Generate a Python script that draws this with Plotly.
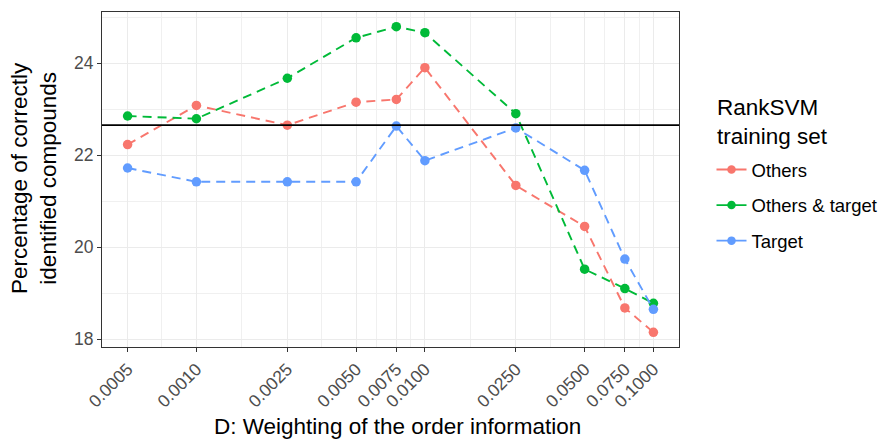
import plotly.graph_objects as go
import numpy as np

d_values = [0.0005, 0.001, 0.0025, 0.005, 0.0075, 0.01, 0.025, 0.05, 0.075, 0.1]
tick_labels = ["0.0005", "0.0010", "0.0025", "0.0050", "0.0075", "0.0100",
               "0.0250", "0.0500", "0.0750", "0.1000"]
others = [22.23, 23.08, 22.65, 23.15, 23.21, 23.90, 21.34, 20.45, 18.68, 18.15]
others_target = [22.85, 22.79, 23.67, 24.55, 24.79, 24.66, 22.90, 19.52, 19.10, 18.78]
target = [21.72, 21.42, 21.42, 21.42, 22.63, 21.88, 22.59, 21.67, 19.74, 18.65]
baseline = 22.65
y_ticks = [18, 20, 22, 24]
y_minor = [19, 21, 23, 25]

series = [("Others", others, "#F8766D"),
          ("Others & target", others_target, "#00BA38"),
          ("Target", target, "#619CFF")]

FONT = "Liberation Sans, Arial"
TITLE_SIZE = 22.5

# plot area in page pixels (for placing text relative to the panel)
PX0, PX1, PY0, PY1 = 102, 679, 12, 347
def px(x):
    return (x - PX0) / (PX1 - PX0)
def py(y):
    return (PY1 - y) / (PY1 - PY0)

fig = go.Figure()
for name, vals, col in series:
    fig.add_trace(go.Scatter(
        x=d_values, y=vals, mode="lines+markers", name=name,
        line=dict(color=col, width=1.9, dash="9px,6px"),
        marker=dict(color=col, size=9.5),
        showlegend=False, hoverinfo="x+y+name"))
for name, vals, col in series:
    fig.add_trace(go.Scatter(
        x=[None], y=[None], mode="lines+markers", name=name,
        line=dict(color=col, width=1.9),
        marker=dict(color=col, size=8.5),
        legendgroup=name, showlegend=True))

fig.add_hline(y=baseline, line=dict(color="black", width=1.8))

lx = np.log10(d_values)
minor_x = [10 ** ((a + b) / 2) for a, b in zip(lx[:-1], lx[1:])]

axis_common = dict(
    showline=True, linecolor="#333333", linewidth=1.2, mirror=True,
    ticks="outside", ticklen=4, tickcolor="#333333", tickwidth=1.1,
    gridcolor="#EBEBEB", gridwidth=1.1, zeroline=False, automargin=False,
    tickfont=dict(family=FONT, size=17.5, color="#4D4D4D"),
)

fig.update_xaxes(
    type="log", tickmode="array", tickvals=d_values, ticktext=tick_labels,
    tickangle=-45,
    range=[np.log10(d_values[0]) - 0.112, np.log10(d_values[-1]) + 0.112],
    minor=dict(tickmode="array", tickvals=minor_x, showgrid=True,
               gridcolor="#F0F0F0", gridwidth=0.7, ticks=""),
    **axis_common)
fig.update_yaxes(
    tickmode="array", tickvals=y_ticks, range=[17.83, 25.11],
    minor=dict(tickmode="array", tickvals=y_minor, showgrid=True,
               gridcolor="#F0F0F0", gridwidth=0.7, ticks=""),
    **axis_common)

title_font = dict(family=FONT, size=TITLE_SIZE, color="black")
# x axis title
fig.add_annotation(text="D: Weighting of the order information",
                   xref="paper", yref="paper", x=px(397.5), y=py(426),
                   xanchor="center", yanchor="middle", showarrow=False,
                   font=title_font)
# y axis title
fig.add_annotation(text="Percentage of correctly<br>identified compounds",
                   xref="paper", yref="paper", x=px(34), y=py(178),
                   xanchor="center", yanchor="middle", textangle=-90,
                   showarrow=False, font=title_font)
# legend title
fig.add_annotation(text="RankSVM<br>training set", xref="paper", yref="paper",
                   x=px(715), y=py(122), xanchor="left", yanchor="middle",
                   align="left", showarrow=False, font=title_font)

fig.update_layout(
    width=878, height=433,
    margin=dict(l=94, r=207, t=4, b=94),
    plot_bgcolor="white", paper_bgcolor="white",
    font=dict(family=FONT),
    legend=dict(
        font=dict(family=FONT, size=18.5, color="black"),
        x=px(711.5), xanchor="left", y=py(151), yanchor="top",
        tracegroupgap=8.5, itemwidth=30, bgcolor="rgba(0,0,0,0)"),
)

fig.write_html("out.html")
